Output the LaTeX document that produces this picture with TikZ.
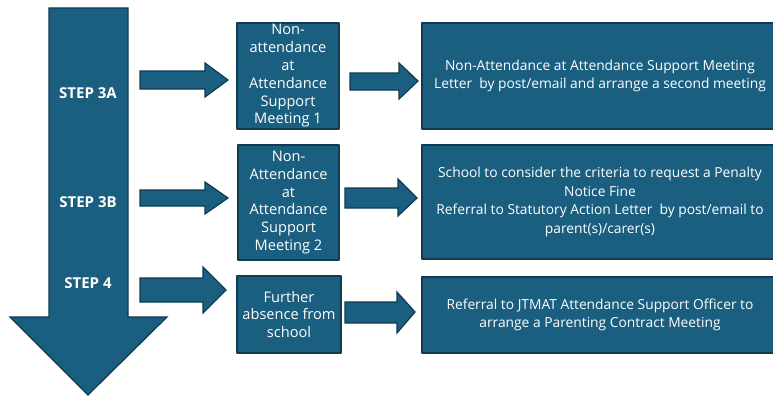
\documentclass[tikz,border=0pt]{standalone}
\usepackage{fontspec}
\setmainfont{Open Sans}
\usepackage{tikz}
\usetikzlibrary{arrows.meta}
\definecolor{stepblue}{RGB}{26,94,128}
\definecolor{edgeblue}{RGB}{16,58,82}
\tikzset{
  shape box/.style={draw=edgeblue,fill=stepblue,line width=1.2pt},
  midbox/.style={shape box,rectangle,inner sep=0pt,align=center,text=white,
    font=\fontsize{14.6}{17.8}\selectfont},
  widebox/.style={midbox,font=\fontsize{13.8}{18.5}\selectfont},
  steplabel/.style={text=white,font=\fontsize{15}{17}\selectfont\bfseries}
}
\begin{document}
\begin{tikzpicture}[line cap=round,line join=round,x=1pt,y=-1pt]
\useasboundingbox (0,0) rectangle (773,396);
\clip (0,0) rectangle (773,396);
% big arrow down the left
\draw [shape box,line join=miter] (49,8) -- (128,8) -- (128,317) -- (167,317) -- (88,395) -- (10,317) -- (49,317) -- cycle;
\node[steplabel] (s3a) at (88,93) {STEP 3A};
\node[steplabel] (s3b) at (88,202) {STEP 3B};
\node[steplabel] (s4) at (88,283) {STEP 4};
% middle column
\node[midbox,minimum width=102pt,minimum height=106pt] (m1) at (288,76)
  {Non-\\attendance\\at\\Attendance\\Support\\Meeting 1};
\node[midbox,minimum width=101pt,minimum height=115pt] (m2) at (288.5,202.5)
  {Non-\\Attendance\\at\\Attendance\\Support\\Meeting 2};
\node[midbox,minimum width=104pt,minimum height=77pt] (m3) at (289,314.5)
  {Further\\absence from\\school};
% right column
\node[widebox,minimum width=356pt,minimum height=106pt] (r1) at (600,76)
  {Non-Attendance at Attendance Support Meeting\\Letter \ by post/email and arrange a second meeting};
\node[widebox,minimum width=356pt,minimum height=114pt] (r2) at (600,202)
  {School to consider the criteria to request a Penalty\\Notice Fine\\Referral to Statutory Action Letter \ by post/email to\\parent(s)/carer(s)};
\node[widebox,minimum width=356pt,minimum height=76pt] (r3) at (600,315)
  {Referral to JTMAT Attendance Support Officer to\\arrange a Parenting Contract Meeting};
% block arrows, steps to middle boxes
\draw [shape box,line join=miter] (140,71) -- (205,71) -- (205,63) -- (228,80) -- (205,97) -- (205,89) -- (140,89) -- cycle;
\draw [shape box,line join=miter] (140,190) -- (205,190) -- (205,182) -- (228,198) -- (205,214) -- (205,206) -- (140,206) -- cycle;
\draw [shape box,line join=miter] (140,278) -- (203,278) -- (203,267) -- (226,290) -- (203,313) -- (203,302) -- (140,302) -- cycle;
% block arrows, middle boxes to right boxes
\draw [shape box,line join=miter] (350,73) -- (399,73) -- (399,63) -- (418,81) -- (399,99) -- (399,90) -- (350,90) -- cycle;
\draw [shape box,line join=miter] (345,188) -- (398,188) -- (398,179) -- (417,198) -- (398,216) -- (398,208) -- (345,208) -- cycle;
\draw [shape box,line join=miter] (345,302) -- (397,302) -- (397,292) -- (415,312) -- (397,333) -- (397,323) -- (345,323) -- cycle;
\end{tikzpicture}
\end{document}
